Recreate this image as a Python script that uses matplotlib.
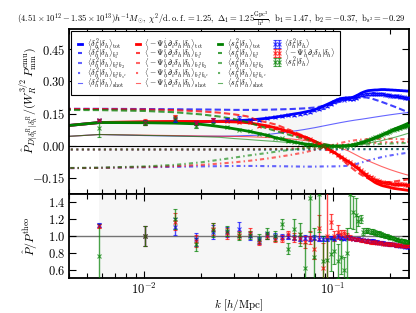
import matplotlib
matplotlib.use('Agg')
import matplotlib.pyplot as plt
from matplotlib.lines import Line2D
import numpy as np

plt.rcParams['mathtext.fontset'] = 'cm'
plt.rcParams['font.family'] = 'serif'
plt.rcParams['font.serif'] = ['cmr10', 'DejaVu Serif']
plt.rcParams['axes.formatter.use_mathtext'] = True

# ---------- k bins (first one lies left of the plotted range) ----------
k_bins = [0.0015, 0.0058, 0.0101, 0.0145, 0.0188, 0.0232, 0.0275, 0.0318, 0.0362, 0.0405,
          0.0449, 0.0492, 0.0535, 0.0579, 0.0622, 0.0666, 0.0709, 0.0752, 0.0796, 0.0839,
          0.0883, 0.0926, 0.0969, 0.1013, 0.1056, 0.1100, 0.1143, 0.1186, 0.1230, 0.1273,
          0.1317, 0.1360, 0.1403, 0.1447, 0.1490, 0.1534, 0.1577, 0.1620, 0.1664, 0.1707,
          0.1751, 0.1794, 0.1837, 0.1881, 0.1924, 0.1968, 0.2011, 0.2054, 0.2098, 0.2141,
          0.2185, 0.2228, 0.2271, 0.2315, 0.2358, 0.2402, 0.2445, 0.2488]
k_data = k_bins[1:]

# ---------- total theory on the k bins ----------
tot_d2 = [0.058, 0.108, 0.109, 0.110, 0.111, 0.113, 0.115, 0.117, 0.120, 0.124, 0.128,
          0.133, 0.138, 0.143, 0.148, 0.152, 0.157, 0.162, 0.168, 0.175, 0.184,
          0.192, 0.200, 0.208, 0.215, 0.220, 0.222, 0.223, 0.224, 0.226, 0.232,
          0.238, 0.245, 0.250, 0.254, 0.257, 0.258, 0.259, 0.260, 0.260, 0.261,
          0.262, 0.262, 0.262, 0.261, 0.261, 0.260, 0.260, 0.259, 0.259, 0.258,
          0.258, 0.257, 0.257, 0.256, 0.256, 0.255, 0.255]
tot_psi = [0.058, 0.108, 0.112, 0.113, 0.113, 0.113, 0.112, 0.110, 0.106, 0.099, 0.092,
           0.084, 0.075, 0.066, 0.057, 0.048, 0.040, 0.031, 0.021, 0.010, -0.002,
           -0.012, -0.022, -0.032, -0.042, -0.052, -0.062, -0.071, -0.080, -0.090, -0.100,
           -0.108, -0.120, -0.130, -0.140, -0.150, -0.158, -0.165, -0.172, -0.177, -0.181,
           -0.185, -0.188, -0.190, -0.192, -0.194, -0.196, -0.198, -0.200, -0.201, -0.202,
           -0.203, -0.204, -0.205, -0.206, -0.207, -0.208, -0.209]
tot_s2 = [0.058, 0.108, 0.107, 0.105, 0.102, 0.093, 0.084, 0.075, 0.066, 0.057, 0.048,
          0.038, 0.030, 0.023, 0.017, 0.012, 0.008, 0.005, 0.002, 0.000, -0.001,
          -0.002, -0.003, -0.003, -0.003, -0.002, -0.001, 0.000, 0.002, 0.004, 0.007,
          0.010, 0.013, 0.017, 0.021, 0.025, 0.029, 0.033, 0.037, 0.041, 0.045,
          0.049, 0.053, 0.057, 0.061, 0.065, 0.069, 0.073, 0.077, 0.080, 0.083,
          0.086, 0.089, 0.092, 0.095, 0.098, 0.101, 0.104]

# ---------- individual terms on coarser k knots ----------
k_knots = [0.0015, 0.0058, 0.0101, 0.0145, 0.02, 0.025, 0.03, 0.035, 0.04, 0.045, 0.05,
           0.06, 0.07, 0.08, 0.09, 0.10, 0.11, 0.12, 0.13, 0.14, 0.15, 0.16, 0.18,
           0.20, 0.22, 0.24, 0.26]

b13_d2 = [0.172, 0.172, 0.171, 0.170, 0.169, 0.168, 0.167, 0.167, 0.167, 0.168, 0.169,
          0.171, 0.174, 0.178, 0.186, 0.196, 0.207, 0.215, 0.222, 0.226, 0.225, 0.220,
          0.205, 0.190, 0.176, 0.162, 0.150]
b13_psi = [0.172, 0.171, 0.169, 0.166, 0.160, 0.154, 0.146, 0.137, 0.118, 0.108, 0.098,
           0.070, 0.045, 0.020, -0.003, -0.028, -0.060, -0.090, -0.115, -0.135, -0.150,
           -0.160, -0.170, -0.170, -0.165, -0.160, -0.155]
b13_s2 = [0.168, 0.166, 0.162, 0.156, 0.146, 0.136, 0.124, 0.110, 0.094, 0.080, 0.068,
          0.048, 0.033, 0.018, 0.007, 0.000, -0.003, -0.002, 0.003, 0.010, 0.018, 0.026,
          0.044, 0.062, 0.078, 0.092, 0.105]

b12b2_d2 = [-0.108, -0.104, -0.101, -0.099, -0.097, -0.096, -0.095, -0.095, -0.095, -0.096,
            -0.096, -0.097, -0.098, -0.098, -0.097, -0.097, -0.096, -0.094, -0.088, -0.080,
            -0.072, -0.065, -0.054, -0.046, -0.040, -0.035, -0.031]
b12b2_psi = [-0.108, -0.104, -0.100, -0.096, -0.090, -0.084, -0.078, -0.072, -0.066, -0.060,
             -0.054, -0.043, -0.032, -0.020, -0.008, 0.004, 0.013, 0.020, 0.025, 0.028,
             0.030, 0.031, 0.032, 0.032, 0.031, 0.030, 0.030]
b12b2_s2 = [-0.108, -0.103, -0.097, -0.090, -0.078, -0.066, -0.056, -0.047, -0.040, -0.034,
            -0.028, -0.019, -0.012, -0.006, -0.002, 0.000, 0.001, 0.002, 0.003, 0.004,
            0.005, 0.006, 0.008, 0.010, 0.011, 0.012, 0.013]

b12bs2_d2 = [-0.018, -0.018, -0.018, -0.018, -0.018, -0.018, -0.018, -0.018, -0.018, -0.018,
             -0.018, -0.018, -0.018, -0.018, -0.018, -0.018, -0.018, -0.017, -0.017, -0.017,
             -0.017, -0.017, -0.016, -0.016, -0.016, -0.016, -0.016]
b12bs2_psi = [-0.018, -0.018, -0.018, -0.018, -0.018, -0.018, -0.018, -0.017, -0.017, -0.016,
              -0.016, -0.014, -0.012, -0.009, -0.006, 0.000, 0.003, 0.006, 0.008, 0.010,
              0.012, 0.013, 0.015, 0.016, 0.017, 0.018, 0.018]
b12bs2_s2 = [-0.018, -0.018, -0.018, -0.018, -0.018, -0.018, -0.018, -0.018, -0.018, -0.018,
             -0.018, -0.018, -0.017, -0.017, -0.017, -0.016, -0.016, -0.016, -0.016, -0.016,
             -0.016, -0.016, -0.016, -0.016, -0.016, -0.016, -0.016]

shot_d2 = [0.021, 0.052, 0.047, 0.045, 0.044, 0.044, 0.045, 0.047, 0.049, 0.052, 0.057,
           0.066, 0.075, 0.084, 0.093, 0.101, 0.108, 0.114, 0.119, 0.123, 0.127, 0.131,
           0.138, 0.144, 0.149, 0.153, 0.157]
shot_psi = [0.021, 0.052, 0.049, 0.047, 0.045, 0.044, 0.043, 0.042, 0.040, 0.038, 0.036,
            0.031, 0.025, 0.018, 0.009, -0.001, -0.012, -0.024, -0.040, -0.055, -0.067,
            -0.078, -0.097, -0.112, -0.124, -0.134, -0.142]
shot_s2 = [0.021, 0.052, 0.048, 0.045, 0.042, 0.039, 0.033, 0.029, 0.025, 0.022, 0.019,
           0.014, 0.010, 0.006, 0.003, 0.001, 0.001, 0.001, 0.003, 0.006, 0.010, 0.014,
           0.023, 0.033, 0.043, 0.053, 0.062]

# ---------- measured / theory ratios and errors ----------
ratio_d2 = [1.13, 1.00, 1.11, 0.96, 1.05, 1.05, 1.08, 1.00, 0.95, 1.01,
            1.00, 0.99, 0.99, 0.98, 0.97, 0.98, 0.97, 0.98, 0.97, 0.97,
            0.96, 0.98, 0.97, 1.00, 0.98, 0.97, 0.99, 0.98, 0.97, 0.96,
            0.97, 0.96, 0.95, 0.95, 0.94, 0.94, 0.94, 0.93, 0.93, 0.92,
            0.92, 0.92, 0.91, 0.91, 0.91, 0.90, 0.90, 0.90, 0.89, 0.89,
            0.89, 0.88, 0.88, 0.88, 0.87, 0.87, 0.87]
err_d2 = [0.02, 0.12, 0.10, 0.08, 0.08, 0.06, 0.09, 0.05, 0.04, 0.04,
          0.03, 0.03, 0.03, 0.03, 0.03, 0.03, 0.03, 0.03, 0.03, 0.03,
          0.02, 0.02, 0.02, 0.02, 0.02, 0.02, 0.02, 0.02, 0.02, 0.02,
          0.02, 0.02, 0.02, 0.02, 0.02, 0.02, 0.02, 0.02, 0.02, 0.02,
          0.015, 0.015, 0.015, 0.015, 0.015, 0.015, 0.015, 0.015, 0.015, 0.015,
          0.015, 0.015, 0.015, 0.015, 0.015, 0.015, 0.015]
ratio_psi = [1.12, 1.00, 1.17, 0.94, 1.08, 1.03, 1.01, 1.04, 0.93, 1.00,
             0.97, 0.97, 1.02, 0.98, 0.98, 0.93, 0.98, 0.85, 1.10, 0.62,
             1.00, 1.17, 1.00, 1.05, 1.02, 1.03, 1.00, 0.98, 0.97, 0.96,
             0.96, 0.95, 0.95, 0.94, 0.94, 0.93, 0.93, 0.93, 0.92, 0.92,
             0.92, 0.91, 0.91, 0.91, 0.90, 0.90, 0.90, 0.90, 0.89, 0.89,
             0.89, 0.89, 0.88, 0.88, 0.88, 0.88, 0.88]
err_psi = [0.02, 0.12, 0.10, 0.07, 0.07, 0.06, 0.05, 0.05, 0.04, 0.04,
           0.04, 0.04, 0.04, 0.05, 0.06, 0.07, 0.08, 0.12, 0.15, 0.30,
           0.60, 0.09, 0.06, 0.08, 0.05, 0.04, 0.03, 0.03, 0.02, 0.02,
           0.02, 0.02, 0.02, 0.02, 0.02, 0.02, 0.02, 0.02, 0.02, 0.02,
           0.015, 0.015, 0.015, 0.015, 0.015, 0.015, 0.015, 0.015, 0.015, 0.015,
           0.015, 0.015, 0.015, 0.015, 0.015, 0.015, 0.015]
ratio_s2 = [0.76, 1.00, 1.20, 0.90, 1.07, 1.06, 1.00, 1.01, 0.97, 1.03,
            1.00, 1.14, 0.85, 1.08, 1.02, 0.62, 1.45, 0.75, 1.50, 0.70,
            0.72, 0.78, 0.82, 0.70, 0.75, 0.60, 0.80, 1.50, 1.28, 1.25,
            1.18, 1.20, 1.05, 1.06, 1.06, 1.05, 1.05, 1.04, 1.03, 1.03,
            1.02, 1.01, 1.00, 1.00, 0.99, 0.98, 0.98, 0.97, 0.96, 0.96,
            0.95, 0.95, 0.94, 0.94, 0.93, 0.93, 0.93]
err_s2 = [0.38, 0.12, 0.12, 0.08, 0.08, 0.06, 0.05, 0.05, 0.05, 0.06,
          0.06, 0.06, 0.07, 0.12, 0.14, 0.30, 0.40, 0.35, 0.45, 0.30,
          0.25, 0.20, 0.15, 0.20, 0.20, 0.15, 0.30, 0.40, 0.20, 0.20,
          0.06, 0.05, 0.04, 0.03, 0.03, 0.03, 0.03, 0.03, 0.03, 0.03,
          0.03, 0.02, 0.02, 0.02, 0.02, 0.02, 0.02, 0.02, 0.02, 0.02,
          0.02, 0.02, 0.02, 0.02, 0.02, 0.02, 0.02]

fit_range = (0.0058, 0.087)

title = (r"$(4.51\times10^{12}-1.35\times10^{13})h^{-1}M_{\odot},\ \chi^2/{\rm d.o.f.}=1.25,\ "
         r"\Delta_1=1.25\frac{\rm Gpc^3}{h^3},\ b_1=1.47,\ b_2=-0.37,\ b_{s^2}=-0.29$")

groups = [
    (r"\langle\delta_h^2|\delta_h\rangle", 'b', tot_d2, b13_d2, b12b2_d2, b12bs2_d2, shot_d2, ratio_d2, err_d2),
    (r"\langle-\Psi_h^i\partial_i\delta_h|\delta_h\rangle", 'r', tot_psi, b13_psi, b12b2_psi, b12bs2_psi, shot_psi, ratio_psi, err_psi),
    (r"\langle s_h^2|\delta_h\rangle", 'g', tot_s2, b13_s2, b12b2_s2, b12bs2_s2, shot_s2, ratio_s2, err_s2),
]

# ---------- figure ----------
fig = plt.figure(figsize=(4.16, 3.13), dpi=100)
ax1 = fig.add_axes([69/416, 1-194/313, 340/416, 165/313])
ax2 = fig.add_axes([69/416, 1-278/313, 340/416, 84/313])

for ax in (ax1, ax2):
    ax.axvspan(fit_range[0], fit_range[1], color='0.965', zorder=0, lw=0)

ax1.axhline(0, color='k', lw=0.8, zorder=1)
ax2.axhline(1, color='0.45', lw=1.0, zorder=1)

line_handles = []
err_handles = []
for core, c, tot, b13, b12b2, b12bs2, shot, ratio, err in groups:
    tot = np.array(tot)
    ratio = np.array(ratio)
    err = np.array(err)
    h = []
    h += ax1.plot(k_bins, tot, '-', color=c, lw=2, label=r"$%s_{\rm tot}$" % core)
    h += ax1.plot(k_knots, b13, '--', color=c, lw=1.5, alpha=0.75, dashes=(3, 1.5),
                  label=r"$%s_{b_1^3}$" % core)
    h += ax1.plot(k_knots, b12b2, '-.', color=c, lw=1.5, alpha=0.6, dashes=(2, 1.5, 0.7, 1.5),
                  label=r"$%s_{b_1^2\,b_2}$" % core)
    h += ax1.plot(k_knots, b12bs2, ':', color=c, lw=1.5, alpha=0.6,
                  label=r"$%s_{b_1^2\,b_{s^2}}$" % core)
    h += ax1.plot(k_knots, shot, '-', color=c, lw=0.8, alpha=0.6,
                  label=r"$%s_{\rm shot}$" % core)
    line_handles += h

    # measurements in the upper panel
    ax1.errorbar(k_data, ratio * tot[1:], yerr=err * np.abs(tot[1:]), fmt='x', color=c,
                 ms=2.5, mew=0.8, capsize=1.5, elinewidth=1, alpha=0.7, zorder=4)
    # ratio in the lower panel
    eb = ax2.errorbar(k_data, ratio, yerr=err, fmt='x', color=c, ms=2.5, mew=0.8,
                      capsize=1.5, elinewidth=1, alpha=0.7, label=r"$%s$" % core, zorder=4)
    err_handles.append(eb)

# two empty slots so that the legend columns hold 5, 5, 5 and 3 entries
blank = [Line2D([], [], lw=0, alpha=0), Line2D([], [], lw=0, alpha=0)]
handles = line_handles + err_handles + blank
labels = [hh.get_label() for hh in line_handles + err_handles] + ['', '']

# tight rows as in the original (the tall brackets' boxes overlap a little)
leg = ax1.legend(handles, labels,
                 loc='upper left', ncol=4, fontsize=5.8, numpoints=2,
                 handlelength=1.1, handletextpad=0.3, columnspacing=0.8,
                 labelspacing=-0.8, borderaxespad=0.3, borderpad=0.55,
                 fancybox=False, framealpha=1, edgecolor='k')
leg.get_frame().set_linewidth(0.8)

for ax in (ax1, ax2):
    ax.set_xscale('log')
    ax.set_xlim(0.004, 0.252)
    ax.tick_params(which='both', direction='in', top=True, right=True, labelsize=9,
                   width=0.8, pad=2.5)
    ax.tick_params(which='major', length=5)
    ax.tick_params(which='minor', length=3.5)
    for s in ax.spines.values():
        s.set_linewidth(1.3)

ax1.set_ylim(-0.226, 0.545)
ax1.set_yticks([-0.15, 0.0, 0.15, 0.30, 0.45])
ax1.tick_params(labelbottom=False)
ax2.set_ylim(0.5, 1.5)
ax2.set_yticks([0.6, 0.8, 1.0, 1.2, 1.4])

ax1.set_ylabel(r"$\hat{P}_{D|\delta^R_h|\delta^R_h}/(W_R^{3/2}\,P_{\rm mm}^{\rm emu})$", fontsize=8.5)
ax1.yaxis.set_label_coords(-0.085, 0.57)
ax2.set_ylabel(r"$\hat{P}/P^{\rm theo}$", fontsize=8.5)
ax2.yaxis.set_label_coords(-0.085, 0.5)
ax2.set_xlabel(r"$k\ [h/{\rm Mpc}]$", fontsize=8, labelpad=0)

fig.text(0.508, 0.942, title, ha='center', va='center', fontsize=6.2)

fig.savefig('out.png', dpi=100)
